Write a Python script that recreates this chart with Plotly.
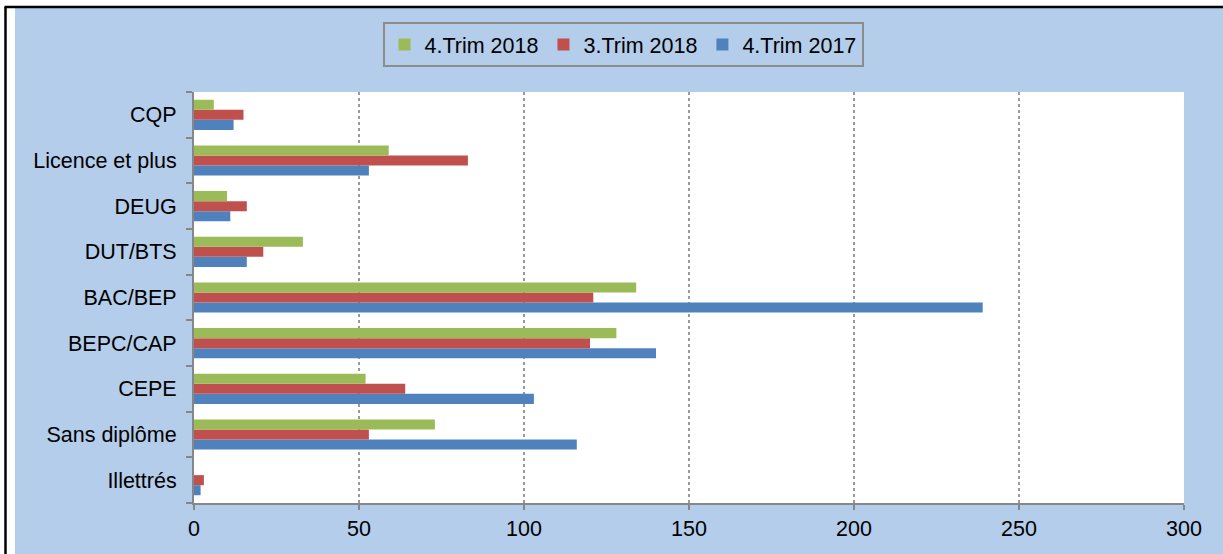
import plotly.graph_objects as go

categories = ["Illettrés", "Sans diplôme", "CEPE", "BEPC/CAP", "BAC/BEP",
              "DUT/BTS", "DEUG", "Licence et plus", "CQP"]
trim4_2017 = [2, 116, 103, 140, 239, 16, 11, 53, 12]
trim3_2018 = [3, 53, 64, 120, 121, 21, 16, 83, 15]
trim4_2018 = [0, 73, 52, 128, 134, 33, 10, 59, 6]
x_ticks = [0, 50, 100, 150, 200, 250, 300]

W, H = 1223, 554
L, R, T, B = 194, 1184, 92, 503
BLUE_BG = "#B3CDEA"
FONT = "Liberation Sans, Arial, sans-serif"


def px(x):
    return (x - L) / (R - L)


def py(y):
    return (B - y) / (B - T)


fig = go.Figure()
fig.add_trace(go.Bar(y=categories, x=trim4_2017, orientation="h", name="4.Trim 2017",
                     marker=dict(color="#4F81BD", line=dict(width=0))))
fig.add_trace(go.Bar(y=categories, x=trim3_2018, orientation="h", name="3.Trim 2018",
                     marker=dict(color="#C0504D", line=dict(width=0))))
fig.add_trace(go.Bar(y=categories, x=trim4_2018, orientation="h", name="4.Trim 2018",
                     marker=dict(color="#9BBB59", line=dict(width=0))))

shapes = [
    # white strips outside the framed area
    dict(type="rect", xref="paper", yref="paper", x0=px(0), x1=px(15), y0=py(H), y1=py(0),
         fillcolor="white", line=dict(width=0), layer="above"),
    dict(type="rect", xref="paper", yref="paper", x0=px(0), x1=px(W), y0=py(8), y1=py(0),
         fillcolor="white", line=dict(width=0), layer="above"),
    # black frame lines
    dict(type="line", xref="paper", yref="paper", x0=px(5.5), x1=px(5.5), y0=py(7), y1=py(H + 5),
         line=dict(color="black", width=2.5), layer="above"),
    dict(type="line", xref="paper", yref="paper", x0=px(4.5), x1=px(W + 5), y0=py(7), y1=py(7),
         line=dict(color="black", width=2.5), layer="above"),
]

fig.update_layout(
    width=W, height=H,
    margin=dict(l=L, r=W - R, t=T, b=H - B, pad=0),
    paper_bgcolor=BLUE_BG,
    plot_bgcolor="white",
    barmode="group",
    bargap=0.34,
    bargroupgap=0,
    font=dict(family=FONT, size=21.5, color="black"),
    showlegend=True,
    legend=dict(orientation="h", traceorder="reversed",
                x=px(623), xanchor="center", y=py(22), yanchor="top",
                bgcolor=BLUE_BG, bordercolor="#8C8C8C", borderwidth=2,
                font=dict(family=FONT, size=21.5), itemwidth=30),
    shapes=shapes,
    xaxis=dict(range=[0, 300], tickvals=x_ticks, ticktext=[str(v) for v in x_ticks],
               showgrid=True, gridcolor="#9A9A9A", griddash="dot", gridwidth=1.5,
               showline=True, linecolor="#878787", linewidth=2,
               ticks="outside", ticklen=5, tickcolor="#878787", tickwidth=2,
               zeroline=False, fixedrange=True),
    yaxis=dict(categoryorder="array", categoryarray=categories,
               showgrid=False, showline=True, linecolor="#878787", linewidth=2,
               ticks="outside", tickson="boundaries", ticklen=6, tickcolor="#878787",
               tickwidth=2, ticklabelstandoff=11, zeroline=False, fixedrange=True),
)

fig.write_html("out.html", config={"displayModeBar": False},
               post_script="document.body.style.margin='0';document.body.style.overflow='hidden';")
